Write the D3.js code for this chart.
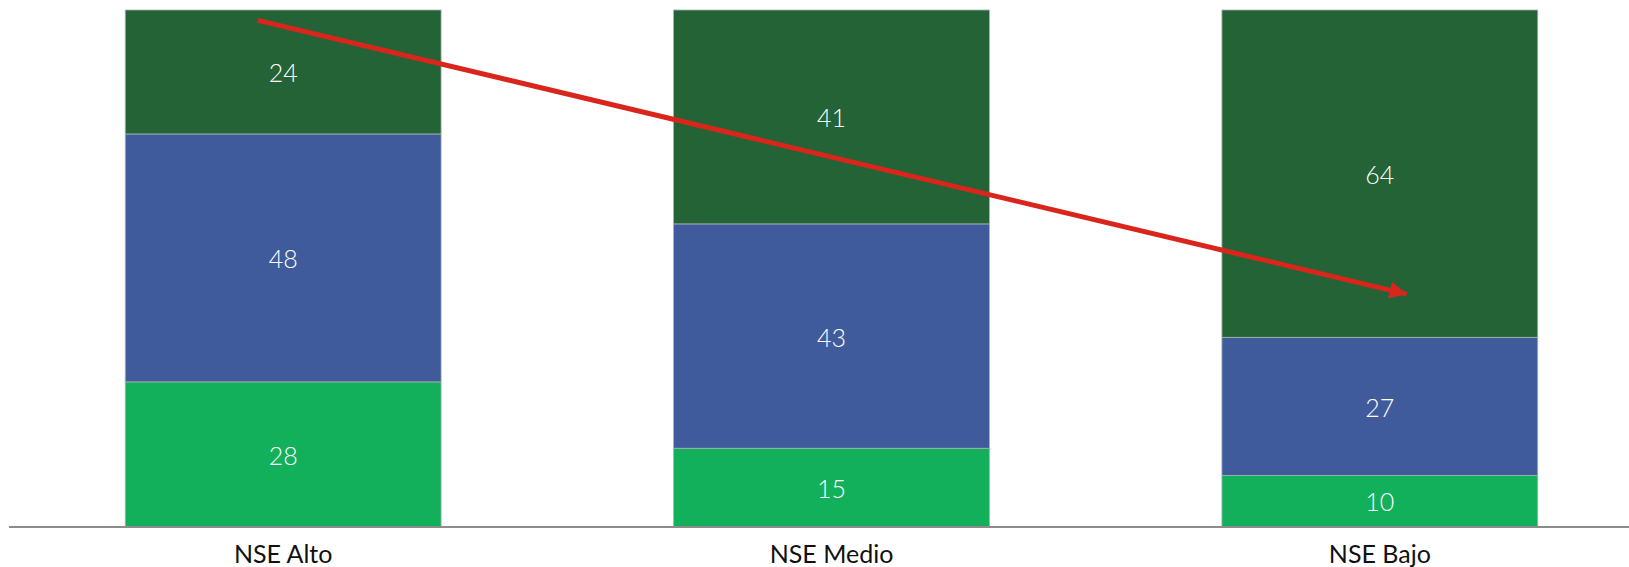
<!DOCTYPE html>
<html><head><meta charset="utf-8">
<script src="https://cdn.jsdelivr.net/npm/d3@7"></script>
<style>
html,body{margin:0;padding:0;background:#fff;}
svg{display:block;}
</style></head>
<body>
<script>
// ---- data ----
const categories = ["NSE Alto", "NSE Medio", "NSE Bajo"];
const seriesNames = ["bottom", "middle", "top"];
const bottomValues = [28, 15, 10];
const middleValues = [48, 43, 27];
const topValues    = [24, 41, 64];
const seriesColors = ["#13B05C", "#3F5B9B", "#246335"];
// arrow annotation in data units: [category, fraction across bar, percent value]
const arrowStart = ["NSE Alto", 0.42, 98];
const arrowEnd   = ["NSE Bajo", 0.585, 45];

const W = 1629, H = 567;
const svg = d3.select("body").append("svg").attr("width", W).attr("height", H);

const baseY = 526.5, topY = 10;
const x = d3.scaleBand().domain(categories).range([9, 1654]).paddingInner(0.424).paddingOuter(0.212);
const y = d3.scaleLinear().domain([0, 100]).range([baseY, topY]);

const rows = categories.map((c, i) => {
  const vals = [bottomValues[i], middleValues[i], topValues[i]];
  const tot = d3.sum(vals);
  const r = {cat: c};
  seriesNames.forEach((s, k) => { r[s] = vals[k] / tot * 100; r[s + "_raw"] = vals[k]; });
  return r;
});
const stacked = d3.stack().keys(seriesNames)(rows);

const g = svg.append("g");
stacked.forEach((layer, k) => {
  g.selectAll(null).data(layer).enter().append("rect")
    .attr("x", d => x(d.data.cat))
    .attr("width", x.bandwidth())
    .attr("y", d => y(d[1]))
    .attr("height", d => y(d[0]) - y(d[1]))
    .attr("fill", seriesColors[k])
    .attr("stroke", "#a7b3ad")
    .attr("stroke-width", 0.8);
  g.selectAll(null).data(layer).enter().append("text")
    .attr("x", d => x(d.data.cat) + x.bandwidth() / 2)
    .attr("y", d => (y(d[0]) + y(d[1])) / 2)
    .attr("dy", "0.42em")
    .attr("text-anchor", "middle")
    .attr("fill", "#fff")
    .style("font-family", "Lato, 'Open Sans', sans-serif")
    .style("font-weight", 300)
    .style("font-size", "25px")
    .text(d => d.data[layer.key + "_raw"]);
});

// axis line
svg.append("line").attr("x1", 9).attr("x2", W).attr("y1", baseY + 0.5).attr("y2", baseY + 0.5)
  .attr("stroke", "#8c8c8c").attr("stroke-width", 2);

// category labels
svg.selectAll(null).data(categories).enter().append("text")
  .attr("x", d => x(d) + x.bandwidth() / 2)
  .attr("y", 563)
  .attr("text-anchor", "middle")
  .attr("fill", "#111")
  .style("font-family", "Lato, 'Open Sans', sans-serif")
  .style("font-size", "25px")
  .text(d => d);

// arrow
const defs = svg.append("defs");
defs.append("marker").attr("id", "ah").attr("viewBox", "0 0 10 10")
  .attr("refX", 10).attr("refY", 5).attr("markerWidth", 4.2).attr("markerHeight", 3.4)
  .attr("markerUnits", "strokeWidth").attr("orient", "auto")
  .append("path").attr("d", "M0,0 L10,5 L0,10 z").attr("fill", "#D9261C");
const ax = a => x(a[0]) + x.bandwidth() * a[1];
svg.append("line")
  .attr("x1", ax(arrowStart)).attr("y1", y(arrowStart[2]))
  .attr("x2", ax(arrowEnd)).attr("y2", y(arrowEnd[2]))
  .attr("stroke", "#D9261C").attr("stroke-width", 5)
  .attr("marker-end", "url(#ah)");
</script>
</body></html>
